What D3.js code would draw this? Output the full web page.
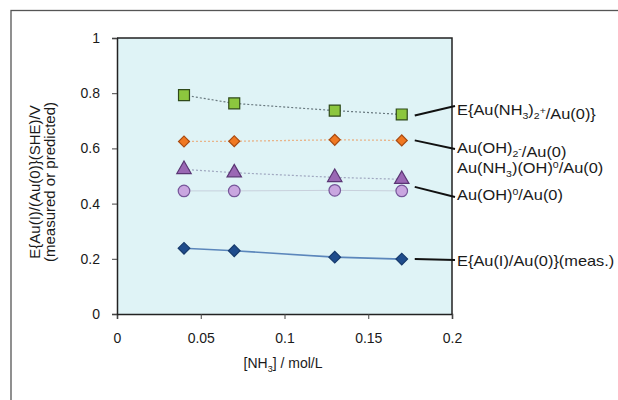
<!DOCTYPE html>
<html>
<head>
<meta charset="utf-8">
<script src="https://cdn.jsdelivr.net/npm/d3@7"></script>
<style>
  html, body { margin: 0; background: #fff; overflow: hidden; }
  svg { display: block; }
  text { font-family: "Liberation Sans", Arial, sans-serif; }
</style>
</head>
<body>
<div class="svg-container"></div>
<script>
// Data
var nh3 = [0.04, 0.07, 0.13, 0.17];
var eAuNH3 = [0.793, 0.763, 0.737, 0.723];
var eAuOH2 = [0.625, 0.626, 0.631, 0.629];
var eAuNH3OH = [0.524, 0.512, 0.495, 0.488];
var eAuOH = [0.446, 0.446, 0.448, 0.446];
var eMeas = [0.238, 0.229, 0.206, 0.199];
var xTicks = [0, 0.05, 0.1, 0.15, 0.2];
var yTicks = [0, 0.2, 0.4, 0.6, 0.8, 1];

var margin = {top: 38, right: 166, bottom: 86, left: 117},
    width = 618 - margin.left - margin.right,
    height = 400 - margin.top - margin.bottom;

var svgRoot = d3.select(".svg-container").append("svg")
    .attr("width", 618)
    .attr("height", 400);

// outer frame (only left/top visible, the picture is cropped)
svgRoot.append("rect")
    .attr("x", 11).attr("y", 10.5)
    .attr("width", 640).attr("height", 420)
    .attr("fill", "none")
    .attr("stroke", "#555")
    .attr("stroke-width", 1.3);

var svg = svgRoot.append("g")
    .attr("transform", "translate(" + margin.left + "," + margin.top + ")");

var x = d3.scaleLinear().domain([0, 0.2]).range([0, width]);
var y = d3.scaleLinear().domain([0, 1]).range([height, 0]);

// plot background
svg.append("rect")
    .attr("width", width).attr("height", height)
    .attr("fill", "#dff3f6");

function styleAxis(g) {
    g.select(".domain").attr("stroke", "#222").attr("stroke-width", 1.5);
    g.selectAll(".tick line").attr("stroke", "#444");
    g.selectAll("text").attr("font-size", 14).attr("fill", "#1a1a1a")
        .attr("font-family", "Liberation Sans, Arial, sans-serif");
}

// axes
svg.append("g")
    .attr("transform", "translate(0," + height + ")")
    .call(d3.axisBottom(x).tickValues(xTicks).tickSize(5).tickPadding(14)
        .tickFormat(function(d) { return String(d); }))
    .call(styleAxis);

svg.append("g")
    .call(d3.axisLeft(y).tickValues(yTicks).tickSize(5).tickPadding(12)
        .tickFormat(function(d) { return String(d); }))
    .call(styleAxis);

// top and right frame
svg.append("path")
    .attr("d", "M0,0H" + width + "V" + height)
    .attr("fill", "none")
    .attr("stroke", "#222")
    .attr("stroke-width", 1.5);

// series
var series = [
    {vals: eAuNH3, line: "#6a7a80", dash: "2,2", lw: 1.2, shape: d3.symbolSquare, size: 120, rot: 0, fill: "#8cc63e", stroke: "#2f4a1a"},
    {vals: eAuOH2, line: "#e8b48a", dash: "2,2", lw: 1.3, shape: d3.symbolSquare, size: 60, rot: 45, fill: "#f07822", stroke: "#a84a10"},
    {vals: eAuNH3OH, line: "#a0a8c0", dash: "2,2", lw: 1.2, shape: d3.symbolTriangle, size: 90, rot: 0, fill: "#9a68b4", stroke: "#5a3674"},
    {vals: eAuOH, line: "#c8d0dc", dash: null, lw: 1, shape: d3.symbolCircle, size: 105, rot: 0, fill: "#c9a6e0", stroke: "#76569a"},
    {vals: eMeas, line: "#5b86bb", dash: null, lw: 1.6, shape: d3.symbolSquare, size: 68, rot: 45, fill: "#1f4c8c", stroke: "#163a6c"}
];

var line = d3.line()
    .x(function(d) { return x(d.x); })
    .y(function(d) { return y(d.y); });

series.forEach(function(s) {
    var pts = nh3.map(function(v, i) { return {x: v, y: s.vals[i]}; });
    svg.append("path")
        .datum(pts)
        .attr("fill", "none")
        .attr("stroke", s.line)
        .attr("stroke-width", s.lw)
        .attr("stroke-dasharray", s.dash)
        .attr("d", line);
    svg.append("g").selectAll("path")
        .data(pts)
        .enter()
        .append("path")
            .attr("transform", function(d) {
                return "translate(" + x(d.x) + "," + y(d.y) + ") rotate(" + s.rot + ")";
            })
            .attr("d", d3.symbol().type(s.shape).size(s.size))
            .attr("fill", s.fill)
            .attr("stroke", s.stroke)
            .attr("stroke-width", 1.2);
});

// callout lines
var lastX = x(nh3[3]);
var callouts = [
    {from: eAuNH3[3], dy0: 1, ty: 106},
    {from: eAuOH2[3], dy0: 0, ty: 149},
    {from: eAuOH[3], dy0: -4, ty: 197},
    {from: eMeas[3], dy0: 0, ty: 260}
];
callouts.forEach(function(c) {
    svg.append("line")
        .attr("x1", lastX + 13).attr("y1", y(c.from) + c.dy0)
        .attr("x2", width + 3).attr("y2", c.ty - margin.top)
        .attr("stroke", "#111")
        .attr("stroke-width", 2);
});

// labels (the original is stretched sideways a little)
var lab = svgRoot.append("g")
    .attr("transform", "translate(457,0) scale(1.17,1)")
    .attr("font-size", 14)
    .attr("fill", "#1a1a1a");

function addLabel(yPos, parts) {
    var t = lab.append("text").attr("x", 0).attr("y", yPos);
    parts.forEach(function(p) {
        var ts = t.append("tspan").text(p[0]);
        if (p[1] === "sub") ts.attr("font-size", 9).attr("dy", 4);
        if (p[1] === "sup") ts.attr("font-size", 9).attr("dy", -5);
        if (p[2]) ts.attr("dy", p[2]);
    });
}
addLabel(115, [["E{Au(NH"], ["3", "sub"], [")", null, -4], ["2", "sub"], ["+", "sup"], ["/Au(0)}", null, 5]]);
addLabel(153, [["Au(OH)"], ["2", "sub"], ["-", "sup"], ["/Au(0)", null, 5]]);
addLabel(173, [["Au(NH"], ["3", "sub"], [")(OH)", null, -4], ["0", "sup"], ["/Au(0)", null, 5]]);
addLabel(200, [["Au(OH)"], ["0", "sup"], ["/Au(0)", null, 5]]);
addLabel(266, [["E{Au(I)/Au(0)}(meas.)"]]);

// axis titles
svgRoot.append("text")
    .attr("transform", "translate(40," + (margin.top + 144) + ") rotate(-90)")
    .attr("text-anchor", "middle")
    .attr("font-size", 15)
    .attr("fill", "#1a1a1a")
    .text("E{Au(I)/(Au(0)}(SHE)/V");
svgRoot.append("text")
    .attr("transform", "translate(55," + (margin.top + 144) + ") rotate(-90)")
    .attr("text-anchor", "middle")
    .attr("font-size", 15)
    .attr("fill", "#1a1a1a")
    .text("(measured or predicted)");

var xt = svgRoot.append("text")
    .attr("x", 283)
    .attr("y", 368)
    .attr("text-anchor", "middle")
    .attr("font-size", 14)
    .attr("fill", "#1a1a1a");
xt.append("tspan").text("[NH");
xt.append("tspan").text("3").attr("font-size", 9).attr("dy", 4);
xt.append("tspan").text("] / mol/L").attr("dy", -4);
</script>
</body>
</html>
